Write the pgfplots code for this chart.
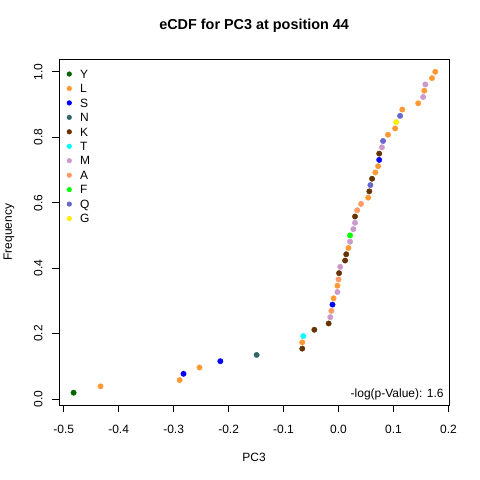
\documentclass[border=0pt]{standalone}
\usepackage{pgfplots}
\pgfplotsset{compat=1.18}
\usepackage{fontspec}
\setmainfont{Liberation Sans}
\definecolor{cY}{HTML}{006400}
\definecolor{cL}{HTML}{FF9933}
\definecolor{cS}{HTML}{0000FF}
\definecolor{cN}{HTML}{336666}
\definecolor{cK}{HTML}{663300}
\definecolor{cT}{HTML}{00FFFF}
\definecolor{cM}{HTML}{CC99CC}
\definecolor{cA}{HTML}{FF9966}
\definecolor{cF}{HTML}{00FF00}
\definecolor{cQ}{HTML}{6666CC}
\definecolor{cG}{HTML}{FFEE00}
\begin{document}
\begin{tikzpicture}
\useasboundingbox (0,0) rectangle (480pt,480pt);
\fill[white] (0,0) rectangle (480pt,480pt);
\begin{axis}[
 at={(59.3pt,74.5pt)}, anchor=south west,
 scale only axis, width=389.7pt, height=346.5pt,
 xmin=-0.508, xmax=0.201, ymin=-0.0200, ymax=1.0392,
 axis line style={line width=0.8pt},
 tick pos=left, tick align=outside, major tick length=7pt,
 tick style={line width=0.8pt, black},
 xtick={-0.5,-0.4,-0.3,-0.2,-0.1,0,0.1,0.2},
 xticklabels={-0.5,-0.4,-0.3,-0.2,-0.1,0.0,0.1,0.2},
 ytick={0,0.2,0.4,0.6,0.8,1},
 yticklabels={0.0,0.2,0.4,0.6,0.8,1.0},
 ticklabel style={font=\fontsize{12}{14}\selectfont, inner sep=0pt},
 xticklabel style={anchor=base, yshift=-20.8pt},
 yticklabel style={xshift=-10pt, rotate=90, anchor=base},
 xlabel={PC3},
 xlabel style={at={(axis description cs:0.5,-0.161)}, anchor=base, inner sep=0pt, font=\fontsize{12}{14}\selectfont},
 ylabel={Frequency},
 ylabel style={at={(axis description cs:-0.1214,0.5)}, rotate=0, anchor=base, inner sep=0pt, font=\fontsize{12}{14}\selectfont},
 title={eCDF for PC3 at position 44},
 title style={at={(axis description cs:0.5,1.0664)}, anchor=base, inner sep=0pt, font=\fontsize{14.4}{17}\selectfont\bfseries},
 legend style={at={(axis description cs:0.0196,0.9775)}, anchor=north west, draw=none, fill=none, inner sep=0pt, outer sep=0pt, row sep=0pt,
   font=\fontsize{12}{14.4}\selectfont, nodes={inner sep=0pt, text height=11.5pt, text depth=2.95pt},
   /tikz/every odd column/.append style={column sep=8.4pt}},
 legend cell align=left,
 legend image code/.code={\draw[#1, mark size=2.35pt] plot coordinates {(0pt,0pt)};},
 every axis plot/.append style={only marks, mark=*, mark size=2.7pt, mark options={line width=0.4pt}},
]
\addplot[color=cY] coordinates {(-0.482,0.0192)};
\addlegendentry{Y}
\addplot[color=cL] coordinates {(-0.433,0.0385) (-0.289,0.0577) (-0.253,0.0962) (-0.066,0.1731) (-0.009,0.3077) (-0.002,0.3462) (0.018,0.4615) (0.054,0.6154) (0.067,0.6923) (0.072,0.7115) (0.090,0.8077) (0.103,0.8269) (0.116,0.8846) (0.145,0.9038) (0.156,0.9423) (0.170,0.9808) (0.176,1.0)};
\addlegendentry{L}
\addplot[color=cS] coordinates {(-0.282,0.0769) (-0.215,0.1154) (-0.011,0.2885) (0.074,0.7308)};
\addlegendentry{S}
\addplot[color=cN] coordinates {(-0.149,0.1346)};
\addlegendentry{N}
\addplot[color=cK] coordinates {(-0.066,0.1538) (-0.044,0.2115) (-0.018,0.2308) (0.001,0.3846) (0.012,0.4231) (0.014,0.4423) (0.030,0.5577) (0.056,0.6346) (0.061,0.6731) (0.074,0.75)};
\addlegendentry{K}
\addplot[color=cT] coordinates {(-0.064,0.1923)};
\addlegendentry{T}
\addplot[color=cM] coordinates {(-0.015,0.25) (-0.002,0.3269) (0.003,0.4038) (0.021,0.4808) (0.027,0.5192) (0.030,0.5385) (0.079,0.7692) (0.154,0.9231) (0.158,0.9615)};
\addlegendentry{M}
\addplot[color=cA] coordinates {(-0.013,0.2692) (0.000,0.3654) (0.034,0.5769) (0.041,0.5962)};
\addlegendentry{A}
\addplot[color=cF] coordinates {(0.021,0.5)};
\addlegendentry{F}
\addplot[color=cQ] coordinates {(0.058,0.6538) (0.081,0.7885) (0.112,0.8654)};
\addlegendentry{Q}
\addplot[color=cG] coordinates {(0.105,0.8462)};
\addlegendentry{G}
\node[anchor=base east, inner sep=0pt, font=\fontsize{12}{14.4}\selectfont] at (axis description cs:0.9867,0.0231) {-log(p-Value): 1.6};
\end{axis}
\end{tikzpicture}
\end{document}
